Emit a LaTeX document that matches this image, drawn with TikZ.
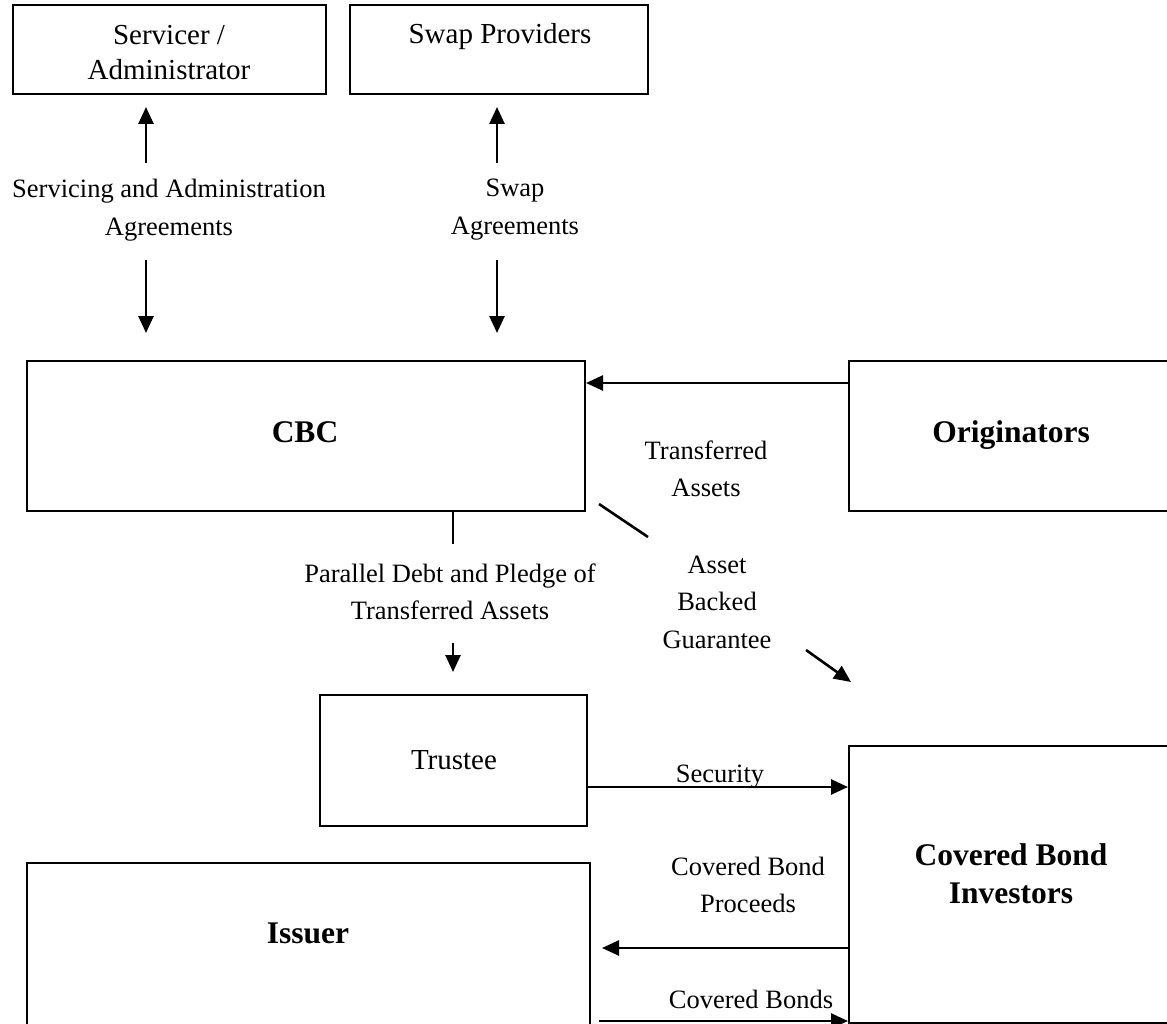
\documentclass[tikz,border=0pt]{standalone}
\usepackage{fontspec}
\setmainfont{Liberation Serif}
\usetikzlibrary{arrows.meta}
\newcommand{\mystack}[1]{\vtop{\halign{\hfil##\hfil\cr#1\crcr}}}
\begin{document}
\begin{tikzpicture}[x=1pt,y=-1pt,
  box/.style={draw, line width=2pt, inner sep=0pt},
  lbl/.style={font=\fontsize{26.5}{37.5}\selectfont, inner sep=0pt, anchor=base},
  btxt/.style={font=\fontsize{29}{35}\selectfont, inner sep=0pt, anchor=base},
  bold/.style={font=\fontsize{31.5}{38}\selectfont\bfseries, inner sep=0pt, anchor=base},
  arr/.style={line width=2.6pt, -{Triangle[length=17pt,width=15pt]}},
  ln/.style={line width=2.6pt}]
\useasboundingbox (0,0) rectangle (1167,1024);
\clip (0,0) rectangle (1167,1024);
% boxes
\node[box, minimum width=313pt, minimum height=89pt] (serv) at (169.5,49.5) {};
\node[box, minimum width=298pt, minimum height=89pt] (swap) at (499,49.5) {};
\node[box, minimum width=558pt, minimum height=150pt] (cbc) at (306,436) {};
\node[box, minimum width=351pt, minimum height=150pt] (orig) at (1024.5,436) {};
\node[box, minimum width=267pt, minimum height=131pt] (trustee) at (453.5,760.5) {};
\node[box, minimum width=351pt, minimum height=277pt] (cbi) at (1024.5,884.5) {};
\node[box, minimum width=563pt, minimum height=177pt] (issuer) at (308.5,951.5) {};
% texts
\node[btxt] (tServ) at (169,45) {\mystack{Servicer /\cr Administrator}};
\node[btxt] (tSwap) at (500,44) {Swap Providers};
\node[lbl] (lServ) at (169,198) {\mystack{Servicing and Administration\cr Agreements}};
\node[lbl] (lSwap) at (515,197) {\mystack{Swap\cr Agreements}};
\node[bold] (tCBC) at (305,442) {CBC};
\node[bold] (tOrig) at (1011,442) {Originators};
\node[lbl] (lTA) at (706,459) {\mystack{Transferred\cr Assets}};
\node[lbl] (lPD) at (450,582) {\mystack{Parallel Debt and Pledge of\cr Transferred Assets}};
\node[lbl] (lABG) at (717,573) {\mystack{Asset\cr Backed\cr Guarantee}};
\node[btxt] (tTrustee) at (454,769) {Trustee};
\node[lbl] (lSec) at (720,782) {Security};
\node[bold] (tCBI) at (1011,865) {\mystack{Covered Bond\cr Investors}};
\node[bold] (tIss) at (308,943) {Issuer};
\node[lbl] (lCBP) at (748,875) {\mystack{Covered Bond\cr Proceeds}};
\node[lbl] (lCB) at (751,1008) {Covered Bonds};
% coordinates
\coordinate (a1) at (146,163); \coordinate (a1t) at (146,107);
\coordinate (a2) at (146,260); \coordinate (a2t) at (146,333);
\coordinate (b1) at (497,163); \coordinate (b1t) at (497,107);
\coordinate (b2) at (497,260); \coordinate (b2t) at (497,333);
\coordinate (yTA) at (0,383);
\coordinate (stubEnd) at (453,544);
\coordinate (pd1) at (453,643); \coordinate (pd2) at (453,672);
\coordinate (g1) at (599,504); \coordinate (g2) at (648,537);
\coordinate (g3) at (806,650); \coordinate (g4) at (851,682);
\coordinate (ySec) at (0,787);
\coordinate (yPro) at (0,948); \coordinate (proEnd) at (602,948);
\coordinate (cbStart) at (599,1021);
% connectors
\draw[arr] (a1) -- (a1t);
\draw[arr] (a2) -- (a2t);
\draw[arr] (b1) -- (b1t);
\draw[arr] (b2) -- (b2t);
\draw[arr] (orig.west |- yTA) -- (cbc.east |- yTA);
\draw[ln] (cbc.south -| stubEnd) -- (stubEnd);
\draw[arr] (pd1) -- (pd2);
\draw[ln] (g1) -- (g2);
\draw[arr] (g3) -- (g4);
\draw[arr] (trustee.east |- ySec) -- (cbi.west |- ySec);
\draw[arr] (cbi.west |- yPro) -- (proEnd);
\draw[arr] (cbStart) -- (cbi.west |- cbStart);
\end{tikzpicture}
\end{document}
